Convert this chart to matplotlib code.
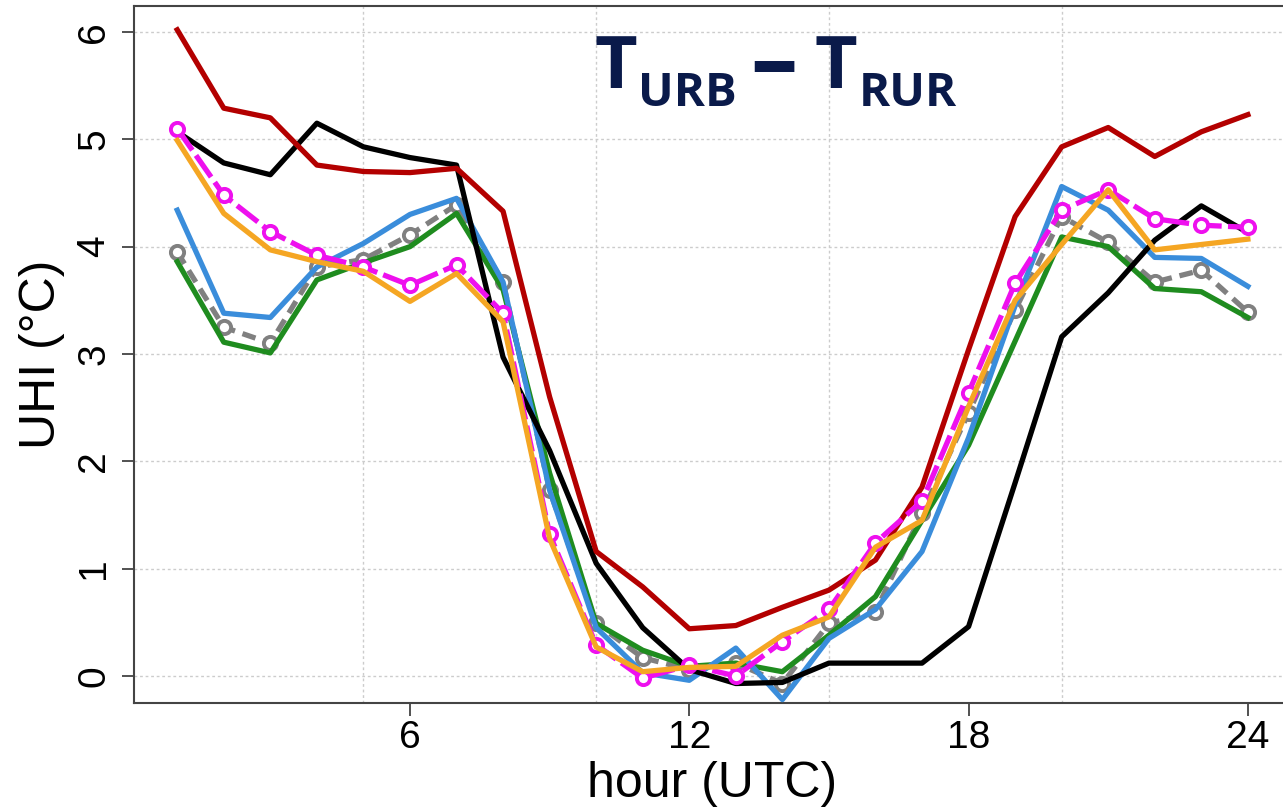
import matplotlib
matplotlib.use("Agg")
import matplotlib.pyplot as plt

hours = list(range(1, 25))
red = [6.02, 5.29, 5.20, 4.76, 4.70, 4.69, 4.73, 4.33, 2.60, 1.16, 0.83, 0.44,
       0.47, 0.64, 0.80, 1.08, 1.76, 3.04, 4.28, 4.93, 5.11, 4.84, 5.07, 5.23]
black = [5.07, 4.78, 4.67, 5.15, 4.93, 4.83, 4.76, 2.97, 2.10, 1.05, 0.45, 0.06,
         -0.07, -0.06, 0.12, 0.12, 0.12, 0.46, 1.80, 3.16, 3.57, 4.06, 4.38, 4.13]
blue = [4.34, 3.38, 3.34, 3.81, 4.03, 4.30, 4.45, 3.67, 1.73, 0.45, 0.03, -0.04,
        0.26, -0.22, 0.35, 0.62, 1.16, 2.22, 3.45, 4.56, 4.34, 3.90, 3.89, 3.63]
gray = [3.95, 3.25, 3.10, 3.81, 3.88, 4.11, 4.39, 3.67, 1.73, 0.49, 0.17, 0.06,
        0.12, -0.07, 0.49, 0.60, 1.52, 2.45, 3.41, 4.28, 4.04, 3.67, 3.78, 3.39]
green = [3.86, 3.11, 3.01, 3.69, 3.85, 4.00, 4.31, 3.60, 1.89, 0.49, 0.24, 0.09,
         0.12, 0.04, 0.38, 0.74, 1.45, 2.15, 3.12, 4.09, 4.00, 3.61, 3.58, 3.34]
magenta = [5.10, 4.48, 4.14, 3.92, 3.81, 3.64, 3.83, 3.38, 1.32, 0.29, -0.02, 0.10,
           0.00, 0.32, 0.62, 1.24, 1.63, 2.64, 3.66, 4.34, 4.53, 4.26, 4.20, 4.18]
orange = [4.99, 4.31, 3.97, 3.86, 3.77, 3.49, 3.75, 3.30, 1.28, 0.27, 0.04, 0.08,
          0.09, 0.38, 0.55, 1.20, 1.45, 2.51, 3.50, 4.02, 4.53, 3.97, 4.02, 4.07]

xticks = [6, 12, 18, 24]
xgrid = [5, 10, 15, 20]
yticks = [0, 1, 2, 3, 4, 5, 6]

plt.rcParams['font.family'] = ['Liberation Sans', 'DejaVu Sans']

W, H = 1283, 810
fig = plt.figure(figsize=(W / 100, H / 100), dpi=100)
left_px, right_px, top_px, bot_px = 134.4, 1290.7, 6, 703
ax = fig.add_axes([left_px / W, (H - bot_px) / H, (right_px - left_px) / W, (bot_px - top_px) / H])
ax.set_xlim(0.08, 24.92)
ax.set_ylim(-0.2516, 6.242)

# grid
for g in xgrid:
    ax.axvline(g, color='#cccccc', lw=1.0, ls=(0, (2, 2)), zorder=0)
for g in yticks:
    ax.axhline(g, color='#cccccc', lw=1.0, ls=(0, (2, 2)), zorder=0)

lw = 3.8
ax.plot(hours, gray, color='#808080', lw=lw, ls=(0, (2.6, 1.5)), marker='o', ms=9.5,
        mec='#808080', mfc='white', mew=2.8, zorder=2)
ax.plot(hours, green, color='#1f8c1f', lw=lw, zorder=3)
ax.plot(hours, blue, color='#3a8ddb', lw=lw, zorder=4)
ax.plot(hours, black, color='#000000', lw=lw, zorder=5)
ax.plot(hours, red, color='#b30000', lw=lw, zorder=6)
ax.plot(hours, magenta, color='#ee10ee', lw=lw, ls=(0, (5, 1.2)), marker='o', ms=9.5,
        mec='#ee10ee', mfc='white', mew=2.8, zorder=7)
ax.plot(hours, orange, color='#f5a623', lw=lw, zorder=8)

ax.set_xticks(xticks)
ax.set_xticklabels([str(t) for t in xticks])
ax.set_yticks(yticks)
ax.set_yticklabels([str(t) for t in yticks])
ax.tick_params(axis='both', direction='out', length=9, width=1.2, color='#333333',
               labelsize=28, labelcolor='black')
ax.tick_params(axis='x', pad=3)
ax.tick_params(axis='y', pad=20)
for lab in ax.get_yticklabels():
    lab.set_rotation(90)
    lab.set_va('center')
    lab.set_ha('center')
    lab.set_rotation_mode('anchor')

for s in ['left', 'bottom', 'top', 'right']:
    ax.spines[s].set_color('#444444')
    ax.spines[s].set_linewidth(1.5)

ax.set_xlabel('hour (UTC)', fontsize=36)
ax.xaxis.set_label_coords(0.5, (H - 797 - (H - bot_px)) / (bot_px - top_px))
ax.xaxis.label.set_va('baseline')
ax.set_ylabel('UHI (°C)', fontsize=36)
ax.yaxis.set_label_coords((42 - left_px) / (right_px - left_px), 0.5)
ax.yaxis.label.set_va('center')
ax.yaxis.label.set_ha('center')

# title pieces
navy = '#0a1a4a'
tf = ['Open Sans', 'DejaVu Sans']
def ft(xp, yp, s, size):
    fig.text(xp / W, (H - yp) / H, s, fontsize=size, fontweight='bold', color=navy,
             family=tf, ha='left', va='baseline')
ft(594, 88, 'T', 53)
ft(638, 106, 'URB', 34)
ft(750, 92, '–', 68)
ft(815, 88, 'T', 53)
ft(859, 106, 'RUR', 34)

fig.savefig('out.png', dpi=100)
